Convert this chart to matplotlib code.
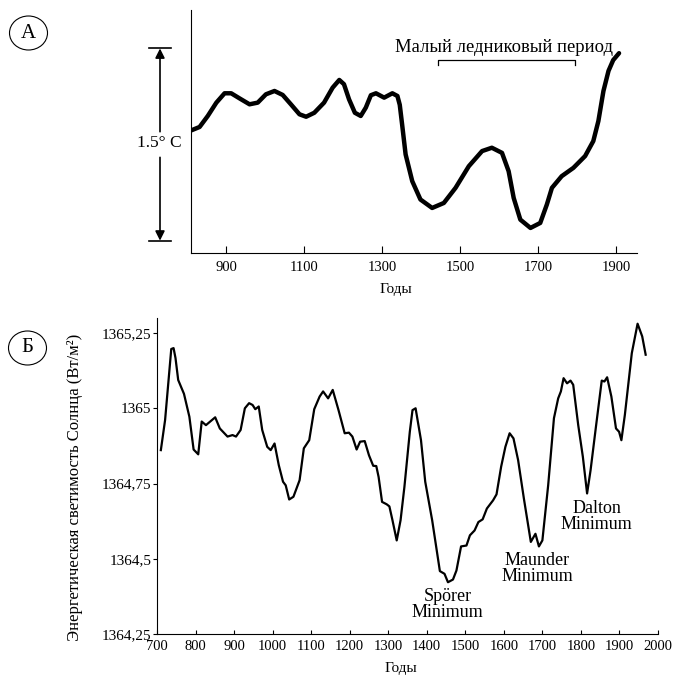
import numpy as np
import matplotlib.pyplot as plt
from matplotlib.patches import Ellipse
import matplotlib.transforms as mtransforms

plt.rcParams['font.family'] = ['Liberation Serif', 'DejaVu Serif']

# А: температура (относительно, °C)
years_a = [811, 832, 853, 875, 896, 913, 934, 960, 981, 1002, 1024, 1045, 1066,
           1088, 1105, 1126, 1151, 1173, 1190, 1202, 1215, 1230, 1245, 1258,
           1271, 1284, 1305, 1326, 1339, 1345, 1351, 1360, 1377, 1398, 1428,
           1458, 1488, 1522, 1556, 1581, 1607, 1624, 1637, 1654, 1680, 1705,
           1722, 1735, 1760, 1790, 1820, 1841, 1854, 1867, 1880, 1892, 1907]
temp_a = [0.861, 0.887, 0.973, 1.077, 1.150, 1.150, 1.111, 1.064, 1.077, 1.142,
          1.168, 1.137, 1.064, 0.986, 0.967, 0.998, 1.077, 1.194, 1.254, 1.221,
          1.103, 0.998, 0.973, 1.038, 1.135, 1.150, 1.116, 1.150, 1.129, 1.060,
          0.908, 0.673, 0.464, 0.321, 0.255, 0.294, 0.412, 0.581, 0.699, 0.725,
          0.685, 0.542, 0.333, 0.164, 0.099, 0.138, 0.282, 0.412, 0.503, 0.568,
          0.660, 0.777, 0.933, 1.168, 1.325, 1.409, 1.463]
ticks_a = [900, 1100, 1300, 1500, 1700, 1900]

# Б: энергетическая светимость Солнца
years_b = [710, 721, 737, 743, 748, 755, 770, 784, 795, 807, 816, 827, 851, 863,
           883, 896, 905, 917, 928, 939, 948, 955, 964, 973, 986, 995, 1005, 1016,
           1027, 1034, 1043, 1054, 1070, 1081, 1095, 1108, 1122, 1131, 1144, 1156,
           1171, 1187, 1198, 1207, 1218, 1227, 1239, 1250, 1261, 1269, 1275, 1284,
           1296, 1303, 1311, 1322, 1332, 1342, 1356, 1363, 1371, 1385, 1396, 1414,
           1434, 1446, 1455, 1468, 1477, 1489, 1503, 1512, 1524, 1534, 1545, 1556,
           1572, 1581, 1593, 1604, 1615, 1625, 1637, 1652, 1670, 1682, 1691, 1700,
           1715, 1730, 1741, 1748, 1755, 1764, 1773, 1780, 1793, 1805, 1816, 1825,
           1839, 1854, 1861, 1868, 1879, 1891, 1899, 1905, 1914, 1932, 1947, 1959,
           1968]
tsi_b = [1364.861, 1364.961, 1365.197, 1365.200, 1365.167, 1365.094, 1365.048,
         1364.972, 1364.863, 1364.847, 1364.956, 1364.944, 1364.970, 1364.933,
         1364.906, 1364.911, 1364.906, 1364.928, 1365.000, 1365.017, 1365.011,
         1364.997, 1365.006, 1364.928, 1364.872, 1364.861, 1364.883, 1364.811,
         1364.756, 1364.744, 1364.697, 1364.706, 1364.761, 1364.867, 1364.894,
         1364.997, 1365.039, 1365.056, 1365.033, 1365.061, 1364.994, 1364.917,
         1364.919, 1364.906, 1364.863, 1364.889, 1364.891, 1364.844, 1364.809,
         1364.808, 1364.772, 1364.689, 1364.681, 1364.674, 1364.628, 1364.561,
         1364.628, 1364.739, 1364.922, 1364.994, 1365.000, 1364.894, 1364.756,
         1364.628, 1364.459, 1364.450, 1364.422, 1364.431, 1364.461, 1364.541,
         1364.544, 1364.578, 1364.594, 1364.622, 1364.631, 1364.667, 1364.694,
         1364.714, 1364.806, 1364.872, 1364.917, 1364.900, 1364.828, 1364.700,
         1364.556, 1364.583, 1364.541, 1364.561, 1364.744, 1364.967, 1365.033,
         1365.056, 1365.100, 1365.083, 1365.092, 1365.078, 1364.944, 1364.839,
         1364.717, 1364.794, 1364.939, 1365.092, 1365.089, 1365.103, 1365.039,
         1364.933, 1364.922, 1364.894, 1364.978, 1365.183, 1365.281, 1365.239,
         1365.178]
ticks_b_x = list(range(700, 2001, 100))
ticks_b_y = [1364.25, 1364.5, 1364.75, 1365, 1365.25]
labels_b_y = ['1364,25', '1364,5', '1364,75', '1365', '1365,25']

minima_names = ['Spörer\nMinimum', 'Maunder\nMinimum', 'Dalton\nMinimum']
minima_x = [1454, 1687, 1841]
minima_y = [1364.347, 1364.468, 1364.64]

fig = plt.figure(figsize=(6.73, 6.76), dpi=100)

# ---- панель А ----
ax1 = fig.add_axes([191 / 673, 1 - 253 / 676, 446 / 673, 243 / 676])
ax1.plot(years_a, temp_a, color='black', lw=3.2, solid_joinstyle='round',
         solid_capstyle='round')
ax1.set_xlim(810, 1953)
ax1.set_ylim(-0.0965, 1.80)
ax1.set_xticks(ticks_a)
ax1.set_yticks([])
ax1.tick_params(axis='x', direction='in', length=5, labelsize=10.5, pad=6)
for s in ['top', 'right']:
    ax1.spines[s].set_visible(False)
ax1.set_xlabel('Годы', fontsize=11)
ax1.xaxis.set_label_coords(0.46, -0.125)

# стрелка 1.5° C
tr = mtransforms.blended_transform_factory(ax1.transAxes, ax1.transData)
ax_x = -0.0695
ax1.annotate('', xy=(ax_x, 1.5), xytext=(ax_x, 0.85), xycoords=tr,
             arrowprops=dict(arrowstyle='-|>', color='black', lw=1.2,
                             mutation_scale=14, shrinkA=0, shrinkB=0))
ax1.annotate('', xy=(ax_x, 0.0), xytext=(ax_x, 0.65), xycoords=tr,
             arrowprops=dict(arrowstyle='-|>', color='black', lw=1.2,
                             mutation_scale=14, shrinkA=0, shrinkB=0))
for yv in [0.0, 1.5]:
    ax1.plot([ax_x - 0.025, ax_x + 0.025], [yv, yv], color='black', lw=1.2,
             transform=tr, clip_on=False)
ax1.text(ax_x - 0.002, 0.76, '1.5° C', transform=tr, ha='center', va='center',
         fontsize=12.5, bbox=dict(facecolor='white', edgecolor='none', pad=1))

# Малый ледниковый период
ax1.plot([1443, 1443, 1793, 1793], [1.372, 1.409, 1.409, 1.372],
         color='black', lw=0.9)
ax1.text(1612, 1.51, 'Малый ледниковый период', ha='center', va='center',
         fontsize=13.4)

# ---- панель Б ----
ax2 = fig.add_axes([157 / 673, 1 - 634 / 676, 501 / 673, 316 / 676])
ax2.plot(years_b, tsi_b, color='black', lw=1.6, solid_joinstyle='round')
ax2.set_xlim(700, 2000)
ax2.set_ylim(1364.25, 1365.30)
ax2.set_xticks(ticks_b_x)
ax2.set_yticks(ticks_b_y)
ax2.set_yticklabels(labels_b_y)
ax2.tick_params(axis='x', direction='in', length=3, labelsize=10.5, pad=4)
ax2.tick_params(axis='y', direction='out', length=3, labelsize=11, pad=1)
for s in ['top', 'right']:
    ax2.spines[s].set_visible(False)
ax2.set_xlabel('Годы', fontsize=11)
ax2.xaxis.set_label_coords(0.486, -0.09)
ax2.set_ylabel('Энергетическая светимость Солнца (Вт/м²)', fontsize=12)
ax2.yaxis.set_label_coords(-0.148, 0.464)

for name, xv, yv in zip(minima_names, minima_x, minima_y):
    ax2.text(xv, yv, name, ha='center', va='center', fontsize=13,
             linespacing=0.95)

# буквы в кружках
for letter, cx, cy in [('А', 28.5, 33), ('Б', 27.5, 348)]:
    fig.patches.append(Ellipse((cx / 673, 1 - cy / 676), 38 / 673, 34 / 676,
                               transform=fig.transFigure, fill=False,
                               edgecolor='black', lw=0.8))
    fig.text(cx / 673, 1 - cy / 676, letter, ha='center', va='center',
             fontsize=15)

fig.savefig('out.png', dpi=100)
